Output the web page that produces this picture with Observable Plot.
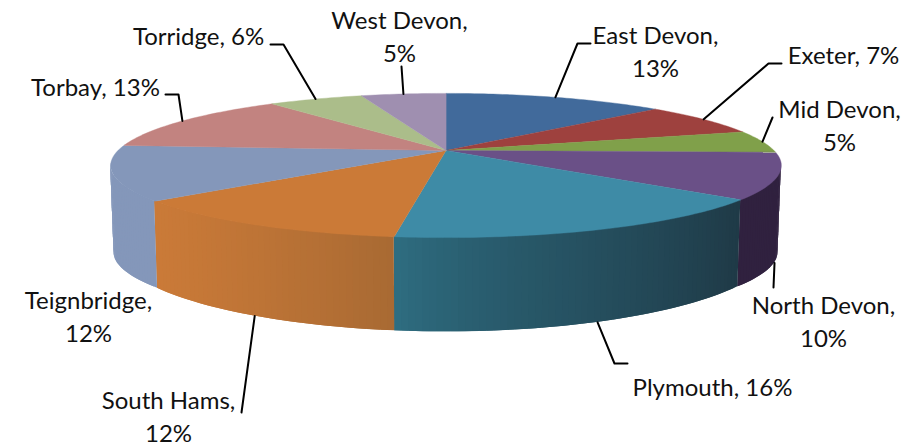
<!DOCTYPE html>
<html><head><meta charset="utf-8">
<style>html,body{margin:0;padding:0;background:#fff}svg{display:block}</style>
<script src="https://cdn.jsdelivr.net/npm/d3@7"></script>
<script src="https://cdn.jsdelivr.net/npm/@observablehq/plot@0.6"></script>
</head><body><div id="chart"></div>
<script>
const districts = ["East Devon","Exeter","Mid Devon","North Devon","Plymouth","South Hams","Teignbridge","Torbay","Torridge","West Devon"];
const shares = [13.0,7.4,5.0,10.3,16.3,12.0,12.2,13.2,5.6,5.0];
const topColors = ["#416a9b","#9e413e","#80a04a","#6a5087","#3e8ba6","#cb7a37","#8497ba","#c28380","#abbd8a","#9f8fb0"];
const wallLeft  = ["#416a9b","#9e413e","#80a04a","#30213f","#2f7084","#ca7a38","#8497ba","#c28380","#abbd8a","#9f8fb0"];
const wallRight = ["#416a9b","#9e413e","#80a04a","#30213f","#1f3a47","#a96a33","#8497ba","#c28380","#abbd8a","#9f8fb0"];
const wallCurve = [1,1,1,1,0.7,1.5,1,1,1,1];
// label placement: two-line labels break after the comma
const labelX = [655,843,839,823,712,168,88,95,198,399];
const labelY = [49,53,123,319,385,414,314,85,34,34];
const twoLines = [true,false,true,true,false,true,true,false,false,true];
// leader elbows after the rim anchor
const leaderElbows = [[[577,43],[590,43]],[[768,63],[781,63]],[[772,117]],[[773,287]],[[614,363],[627,363]],[[241,412]],[],[[178,94],[165,94]],[[283,44],[270,44]],[[401,66]]];
const leaderOnBottom = [false,false,false,true,true,true,false,false,false,false];

// perspective disc
const cx=445.5, cy=150, R=328, H=69, k=0.208, shrink=0.99;
const rim = deg => { const t=deg*Math.PI/180, s=1/(1+k*Math.cos(t));
  return {x:cx+R*Math.sin(t)*s, y:cy-H*Math.cos(t)*s}; };
const low = deg => { const p=rim(deg), dy=p.y-cy;
  return {x:cx+(p.x-cx)*shrink, y:p.y+87+7*Math.max(0,(dy-50)/36)}; };

const total=d3.sum(shares);
const edges=[0]; shares.forEach(v=>edges.push(edges[edges.length-1]+v/total*360));
const wallFrom=100, wallTo=260;

const tops=[], walls=[], leaders=[], labels=[];
districts.forEach((name,i)=>{
  const a0=edges[i], a1=edges[i+1], n=Math.ceil(a1-a0);
  const ang=d3.range(n+1).map(j=>a0+(a1-a0)*j/n);
  tops.push({id:name,fill:topColors[i],x:cx,y:cy});
  ang.forEach(a=>tops.push({id:name,fill:topColors[i],...rim(a)}));
  const mix=d3.interpolateRgb(wallLeft[i],wallRight[i]);
  const w0=Math.max(a0,wallFrom), w1=Math.min(a1,wallTo);
  if(w1>w0){
    const m=Math.ceil((w1-w0));
    d3.range(m).forEach(j=>{
      const f=mix(Math.pow(1-j/m,wallCurve[i]));
      // each strip overlaps the next so no seam shows
      const b0=w0+(w1-w0)*j/m, b1=w0+(w1-w0)*Math.min(j+2,m)/m;
      [b0,b1].forEach(b=>{const p=rim(b),q=low(b);
        walls.push({id:name+j,fill:f,x1:p.x,y1:p.y,x2:q.x,y2:q.y});});
    });
  }
  const mid=(a0+a1)/2, start=leaderOnBottom[i]?low(mid):rim(mid);
  if(leaderElbows[i].length){
    [start,...leaderElbows[i].map(([x,y])=>({x,y}))].forEach(p=>leaders.push({id:name,x:p.x,y:p.y}));
  }
  const pct=Math.round(shares[i])+"%";
  labels.push({x:labelX[i],y:labelY[i],text:twoLines[i]?`${name},\n${pct}`:`${name}, ${pct}`});
});

const chart=Plot.plot({
  width:922,height:446,margin:0,
  x:{domain:[0,922],range:[0,922],axis:null},
  y:{domain:[0,446],range:[0,446],axis:null},
  color:{type:"identity"},
  style:{background:"#fff"},
  marks:[
    Plot.area(walls,{x1:"x1",y1:"y1",x2:"x2",y2:"y2",z:"id",fill:"fill"}),
    Plot.line(tops,{x:"x",y:"y",z:"id",fill:"fill",stroke:"fill",strokeWidth:0.4,curve:"linear-closed"}),
    Plot.line(leaders,{x:"x",y:"y",z:"id",stroke:"#000",strokeWidth:2,curve:"linear"}),
    Plot.text(labels,{x:"x",y:"y",text:"text",fill:"#111",fontFamily:"Lato",fontSize:24,lineHeight:1.375,textAnchor:"middle"})
  ]
});
document.getElementById("chart").appendChild(chart);
</script></body></html>
